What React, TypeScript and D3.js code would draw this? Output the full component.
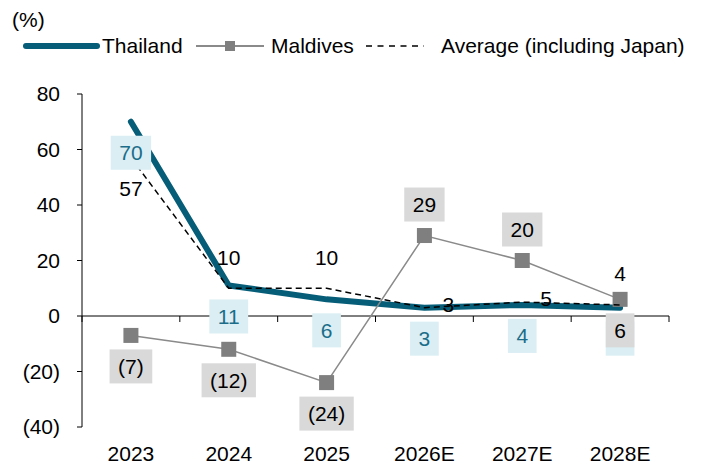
import React, { useEffect, useRef } from "react";
import * as d3 from "d3";

// Series and axis values
const categories = ["2023", "2024", "2025", "2026E", "2027E", "2028E"];
const thailand = [70, 11, 6, 3, 4, 3];
const maldives = [-7, -12, -24, 29, 20, 6];
const average = [57, 10, 10, 3, 5, 4];
const yTicks = [-40, -20, 0, 20, 40, 60, 80];

// Where each data label sits relative to its point
const thailandLabelPos = ["below", "below", "below", "below", "below", "below"];
const maldivesLabelPos = ["below", "below", "below", "above", "above", "below"];
const averageLabelPos = ["below", "above", "above", "right", "right", "above"];
// The last Thailand label sits underneath the Maldives label; only its box peeks out
const thailandTextShown = [true, true, true, true, true, false];

const W = 704;
const H = 466;
const FONT = "'Liberation Sans', Arial, Helvetica, sans-serif";
const FS = 21;
const TEAL = "#065d78";
const TEAL_TEXT = "#1b6d89";
const TEAL_BOX = "#daeef3";
const GRAY = "#7f7f7f";
const GRAY_LINE = "#8a8a8a";
const GRAY_BOX = "#d9d9d9";

const fmt = (v: number) => (v < 0 ? `(${Math.abs(v)})` : `${v}`);

export default function App() {
  const ref = useRef<SVGSVGElement>(null);

  useEffect(() => {
    const svg = d3.select(ref.current);
    svg.selectAll("*").remove();

    const x = d3.scaleBand<string>().domain(categories).range([82, 669]);
    const y = d3.scaleLinear().domain([-40, 80]).range([427, 94]);
    const cx = (c: string) => (x(c) as number) + x.bandwidth() / 2;

    const g = svg.append("g").attr("font-family", FONT).attr("font-size", FS);

    // Unit caption
    g.append("text").attr("x", 12).attr("y", 27).attr("fill", "#000").text("(%)");

    // Legend
    const ly = 46;
    const leg = g.append("g");
    leg.append("line").attr("x1", 26).attr("x2", 97).attr("y1", ly).attr("y2", ly)
      .attr("stroke", TEAL).attr("stroke-width", 6).attr("stroke-linecap", "round");
    leg.append("text").attr("x", 102).attr("y", ly).attr("dy", "0.35em").text("Thailand");
    leg.append("line").attr("x1", 196).attr("x2", 264).attr("y1", ly).attr("y2", ly)
      .attr("stroke", GRAY_LINE).attr("stroke-width", 2);
    leg.append("rect").attr("x", 225).attr("y", ly - 5).attr("width", 10).attr("height", 10).attr("fill", GRAY);
    leg.append("text").attr("x", 271).attr("y", ly).attr("dy", "0.35em").text("Maldives");
    leg.append("line").attr("x1", 366).attr("x2", 424).attr("y1", ly).attr("y2", ly)
      .attr("stroke", "#000").attr("stroke-width", 1.5).attr("stroke-dasharray", "6,5.5");
    leg.append("text").attr("x", 441).attr("y", ly).attr("dy", "0.35em").text("Average (including Japan)");

    // Y axis
    const yAxis = g.append("g");
    yAxis.append("line").attr("x1", 82).attr("x2", 82).attr("y1", y(80)).attr("y2", y(-40))
      .attr("stroke", "#000").attr("stroke-width", 1);
    yTicks.forEach((t) => {
      yAxis.append("line").attr("x1", 77).attr("x2", 82).attr("y1", y(t)).attr("y2", y(t))
        .attr("stroke", "#000").attr("stroke-width", 1);
      yAxis.append("text").attr("x", 60).attr("y", y(t)).attr("dy", "0.35em")
        .attr("text-anchor", "end").text(fmt(t));
    });

    // X axis at zero
    const xAxis = g.append("g");
    xAxis.append("line").attr("x1", 82).attr("x2", 669).attr("y1", y(0)).attr("y2", y(0))
      .attr("stroke", "#000").attr("stroke-width", 1);
    const bounds = categories.map((c) => x(c) as number).concat([x.range()[1]]);
    bounds.forEach((b) => {
      xAxis.append("line").attr("x1", b).attr("x2", b).attr("y1", y(0)).attr("y2", y(0) + 6)
        .attr("stroke", "#000").attr("stroke-width", 1);
    });
    categories.forEach((c) => {
      xAxis.append("text").attr("x", cx(c)).attr("y", 461).attr("text-anchor", "middle").text(c);
    });

    const line = d3.line<number>().x((_, i) => cx(categories[i])).y((d) => y(d));

    // Thailand
    g.append("path").attr("d", line(thailand) as string).attr("fill", "none")
      .attr("stroke", TEAL).attr("stroke-width", 6)
      .attr("stroke-linejoin", "round").attr("stroke-linecap", "round");

    // Maldives
    g.append("path").attr("d", line(maldives) as string).attr("fill", "none")
      .attr("stroke", GRAY_LINE).attr("stroke-width", 1.5);
    maldives.forEach((v, i) => {
      g.append("rect").attr("x", cx(categories[i]) - 7.5).attr("y", y(v) - 7.5)
        .attr("width", 15).attr("height", 15).attr("fill", GRAY);
    });

    // Average
    g.append("path").attr("d", line(average) as string).attr("fill", "none")
      .attr("stroke", "#000").attr("stroke-width", 1.5).attr("stroke-dasharray", "6,4");

    // Data labels
    const drawLabels = (
      values: number[],
      pos: string[],
      box: string | null,
      color: string,
      shown?: boolean[]
    ) => {
      values.forEach((v, i) => {
        const px = cx(categories[i]);
        const py = y(v);
        let lx = px;
        let lyy = py;
        let anchor = "middle";
        if (pos[i] === "below") lyy = py + 31;
        else if (pos[i] === "above") lyy = py - 31;
        else if (pos[i] === "right") { lx = px + 18; anchor = "start"; lyy = py - 3; }
        const lg = g.append("g");
        const rect = box ? lg.append("rect").attr("fill", box) : null;
        const t = lg.append("text").attr("x", lx).attr("y", lyy).attr("dy", "0.35em")
          .attr("text-anchor", anchor).attr("fill", color).text(fmt(v));
        if (rect) {
          const w = (t.node() as SVGTextElement).getComputedTextLength() + 17;
          rect.attr("x", lx - w / 2).attr("y", lyy - 17).attr("width", w).attr("height", 34);
        }
        if (shown && !shown[i]) t.remove();
      });
    };
    drawLabels(thailand, thailandLabelPos, TEAL_BOX, TEAL_TEXT, thailandTextShown);
    drawLabels(maldives, maldivesLabelPos, GRAY_BOX, "#000");
    drawLabels(average, averageLabelPos, null, "#000");
  }, []);

  return (
    <svg
      ref={ref}
      width={W}
      height={H}
      viewBox={`0 0 ${W} ${H}`}
      style={{ position: "absolute", left: 0, top: 0, background: "#fff" }}
    />
  );
}
